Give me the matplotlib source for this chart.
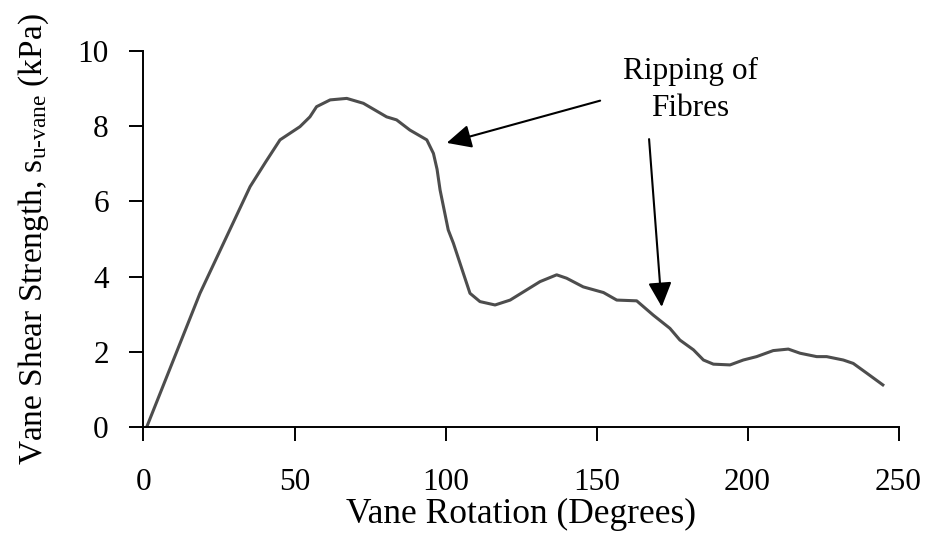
import numpy as np
import matplotlib
matplotlib.use("Agg")
import matplotlib.pyplot as plt

plt.rcParams['font.family'] = ['Liberation Serif', 'DejaVu Serif']
plt.rcParams['mathtext.fontset'] = 'custom'
plt.rcParams['mathtext.rm'] = 'Liberation Serif'
plt.rcParams['mathtext.it'] = 'Liberation Serif:italic'

# curve
rotation = [1.0, 9.9, 18.7, 27.5, 35.3, 40.5, 45.2, 51.8, 55.1, 57.3, 61.8,
            67.3, 72.8, 80.5, 83.8, 88.2, 93.8, 96.0, 97.2, 98.2, 100.9,
            102.6, 105.9, 108.1, 111.4, 116.4, 121.4, 131.3, 136.8, 140.1,
            145.6, 152.3, 156.7, 163.3, 168.8, 174.3, 177.6, 182.1, 185.4,
            188.7, 194.2, 198.6, 203.0, 208.5, 213.5, 217.4, 222.9, 226.2,
            231.7, 235.0, 239.5, 244.8]
strength = [0.0, 1.79, 3.56, 5.06, 6.39, 7.05, 7.63, 7.98, 8.24, 8.51, 8.69,
            8.73, 8.60, 8.24, 8.16, 7.89, 7.63, 7.27, 6.85, 6.30, 5.24,
            4.89, 4.09, 3.56, 3.34, 3.25, 3.38, 3.87, 4.05, 3.96,
            3.73, 3.58, 3.38, 3.36, 2.98, 2.63, 2.32, 2.06, 1.79,
            1.68, 1.66, 1.79, 1.88, 2.04, 2.08, 1.97, 1.88, 1.88,
            1.79, 1.70, 1.44, 1.13]

xticks = [0, 50, 100, 150, 200, 250]
yticks = [0, 2, 4, 6, 8, 10]

fig = plt.figure(figsize=(9.27, 5.38), dpi=100)
ax = fig.add_axes([0.1548, 0.2054, 0.8145, 0.7007])

ax.plot(rotation, strength, color='#4d4d4d', lw=2.2, solid_joinstyle='round')

ax.set_xlim(0, 250)
ax.set_ylim(0, 10)
ax.set_xticks(xticks)
ax.set_yticks(yticks)
ax.spines['top'].set_visible(False)
ax.spines['right'].set_visible(False)
for s in ['left', 'bottom']:
    ax.spines[s].set_linewidth(1.4)
ax.tick_params(direction='out', length=10, width=1.4, labelsize=22.5)
ax.tick_params(axis='x', pad=19)
ax.tick_params(axis='y', pad=15)

ax.set_xlabel('Vane Rotation (Degrees)', fontsize=25.5, labelpad=1)
ax.set_ylabel(r'Vane Shear Strength, s$_{\mathrm{u\text{-}vane}}$ (kPa)',
              fontsize=24, labelpad=19)

ax.text(181.0, 8.95, 'Ripping of\nFibres', fontsize=22.5, ha='center',
        va='center', linespacing=1.35)

arrow = dict(arrowstyle='-|>,head_length=0.75,head_width=0.36', color='black',
             lw=1.5, mutation_scale=20, shrinkA=0, shrinkB=0)
ax.annotate('', xy=(100.4, 7.55), xytext=(151.2, 8.67), arrowprops=arrow)
ax.annotate('', xy=(171.6, 3.20), xytext=(167.4, 7.65), arrowprops=arrow)

fig.savefig('out.png', dpi=100)
